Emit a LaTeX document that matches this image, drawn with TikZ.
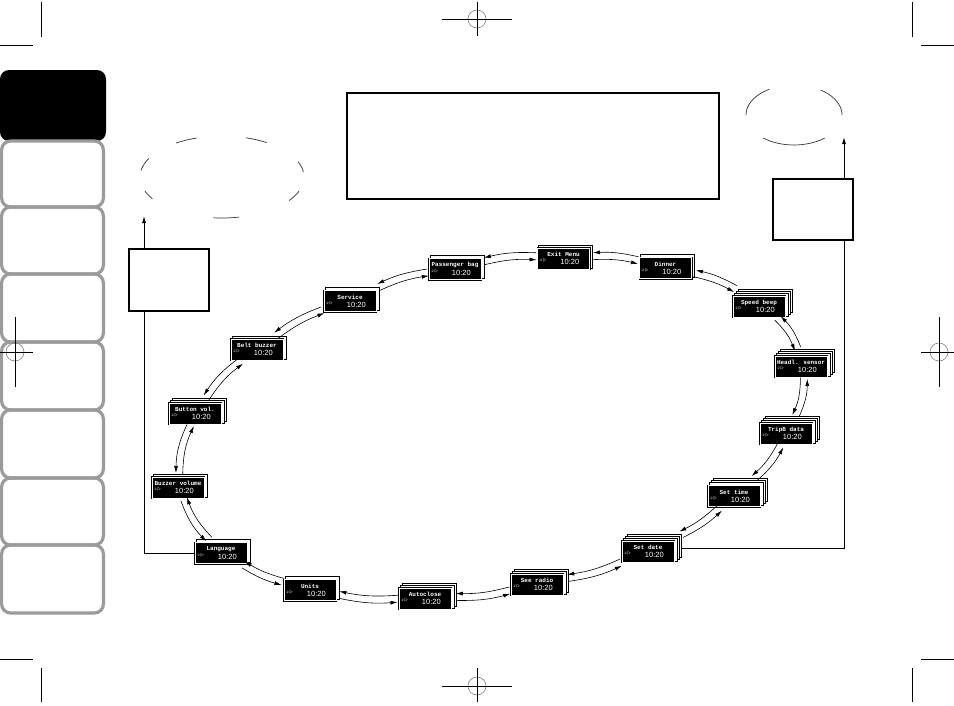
\documentclass[tikz,border=0pt]{standalone}
\usepackage{fontspec}
\usetikzlibrary{calc,arrows.meta}
\newfontfamily\timefont{Liberation Sans}
\newfontfamily\lcdfont{Liberation Mono}
\definecolor{tabgray}{RGB}{155,155,155}
\newcommand\disp[5]{%
  \foreach \k in {#5,...,1}{\draw[backframe] ({#2+2*\k-27},{#3-2*\k-11.5}) rectangle ++(54,23);}
  \node[dispbox] (#1-f) at (#2,#3) {};
  \node[hull, minimum width={54+2*#5}, minimum height={23+2*#5}] (#1) at ({#2+#5},{#3-#5}) {};
  \node[dtitle] (#1-t) at ($(#1-f.north)+(0,7)$) {#4};
  \node[dicon] (#1-i) at ($(#1-f.west)+(6,2)$) {2\,$\triangleright$};
  \node[dtime] (#1-c) at ($(#1-f.south east)+(-20,-7)$) {10:20};
}
\newcommand\link[3]{%
  \draw[conn, transform canvas={shift={($(#1)!3.5pt!-90:(#2)-(#1)$)}}] (#1) to[bend left=#3] (#2);
  \draw[conn, transform canvas={shift={($(#1)!3.5pt!90:(#2)-(#1)$)}}] (#2) to[bend right=#3] (#1);
}
\begin{document}
\begin{tikzpicture}[x=1pt,y=-1pt,
  tabg/.style={draw=tabgray,line width=3.2pt,rounded corners=9pt},
  crop/.style={line width=0.9pt,black},
  reg/.style={draw=gray,line width=0.6pt},
  plainbox/.style={rectangle,draw=black,line width=1.2pt,fill=white,inner sep=0pt},
  dashy/.style={line width=0.7pt,draw=black!80},
  conn/.style={line width=0.6pt,-{Latex[length=7pt,width=4pt]}},
  link/.style={line width=0.9pt},
  backframe/.style={draw=black,line width=0.7pt,fill=white},
  dispbox/.style={rectangle,fill=black,draw=black,double=white,double distance=0.8pt,line width=0.6pt,minimum width=52pt,minimum height=21pt,inner sep=0pt},
  hull/.style={rectangle,inner sep=0pt,draw=none},
  dtitle/.style={text=white,font=\lcdfont\bfseries\fontsize{6}{6}\selectfont,inner sep=0pt},
  dicon/.style={text=white,font=\fontsize{3.5}{3.5}\selectfont,inner sep=0pt},
  dtime/.style={text=white,font=\timefont\fontsize{7.5}{7.5}\selectfont,inner sep=0pt},
]
\useasboundingbox (0,0) rectangle (954,705);
\fill[white] (0,0) rectangle (954,705);
% side tabs
\fill[black, rounded corners=9pt] (0,70) rectangle (106,141);
\foreach \a/\b in {141/207,207/274,274/342,342/410,410/478,478/545,545/613}{\draw[tabg] (1.6,\a) rectangle (103.4,\b);}
% crop marks
\draw[crop] (41,2) -- (41,37); \draw[crop] (0,45) -- (33,45);
\draw[crop] (912,2) -- (912,37); \draw[crop] (921,45) -- (954,45);
\draw[crop] (0,659) -- (33,659); \draw[crop] (41,668) -- (41,702);
\draw[crop] (921,659) -- (954,659); \draw[crop] (912,668) -- (912,702);
\draw[reg] (477,19) circle[radius=9]; \draw[crop] (442,19) -- (512,19); \draw[crop] (477,2) -- (477,36);
\draw[reg] (15,352) circle[radius=9]; \draw[crop] (0,352) -- (33,352); \draw[crop] (15,317) -- (15,387);
\draw[reg] (939,352) circle[radius=9]; \draw[crop] (921,352) -- (954,352); \draw[crop] (939,317) -- (939,387);
\draw[reg] (477,686) circle[radius=9]; \draw[crop] (442,686) -- (512,686); \draw[crop] (477,668) -- (477,702);
% broken ellipses
\foreach \s/\e in {-124/-108,-73/-57,-171/-153,148/160,78/96,20/35,-22/-7}{\draw[dashy] plot[domain=\s:\e,samples=12,smooth] ({222+82*cos(\x)},{177+41*sin(\x)});}
\foreach \s/\e in {-180/-121,-56/0,50/130}{\draw[dashy] plot[domain=\s:\e,samples=16,smooth] ({794+48*cos(\x)},{115+30*sin(\x)});}
% boxes
\node[plainbox, minimum width=372pt, minimum height=106pt] (topbox) at (533,146) {};
\node[plainbox, minimum width=80pt, minimum height=61pt] (rbox) at (813,209.5) {};
\node[plainbox, minimum width=80pt, minimum height=62pt] (lbox) at (169,280) {};
% displays
\disp{exit}{563.5}{258.5}{Exit Menu}{1}
\disp{dinner}{665.5}{268}{Dinner}{1}
\disp{speed}{759}{306.5}{Speed beep}{3}
\disp{headl}{801}{366.5}{Headl. sensor}{3}
\disp{trip}{786}{433.5}{TripB data}{3}
\disp{settime}{734}{496}{Set time}{3}
\disp{setdate}{648}{551.5}{Set date}{3}
\disp{radio}{537}{584.5}{See radio}{2}
\disp{autoclose}{425}{598.5}{Autoclose}{2}
\disp{units}{310}{590}{Units}{1}
\disp{language}{221}{553}{Language}{1}
\disp{buzzer}{178}{487.5}{Buzzer volume}{1}
\disp{button}{195}{413.5}{Button vol.}{2}
\disp{belt}{257}{349.5}{Belt buzzer}{1}
\disp{service}{350}{301}{Service}{1}
\disp{passenger}{455}{269}{Passenger bag}{1}
% links
\link{exit}{dinner}{8}
\link{dinner}{speed}{8}
\link{speed}{headl}{12}
\link{headl}{trip}{12}
\link{trip}{settime}{10}
\link{settime}{setdate}{8}
\link{setdate}{radio}{8}
\link{radio}{autoclose}{8}
\link{autoclose}{units}{8}
\link{units}{language}{8}
\link{language}{buzzer}{12}
\link{buzzer}{button}{12}
\link{button}{belt}{10}
\link{belt}{service}{8}
\link{service}{passenger}{8}
\link{passenger}{exit}{8}
% side connectors
\coordinate (rx) at (844,0);
\coordinate (lx) at (144,0);
\coordinate (rtip) at (844,137);
\coordinate (ltip) at (144,216);
\draw[link] (setdate.east) -- (setdate.east -| rx) -- (rbox.south -| rx);
\draw[conn,line width=0.9pt] (rbox.north -| rx) -- (rtip);
\draw[link] (language-f.west) -- (language-f.west -| lx) -- (lbox.south -| lx);
\draw[conn,line width=0.9pt] (lbox.north -| lx) -- (ltip);
\end{tikzpicture}
\end{document}
